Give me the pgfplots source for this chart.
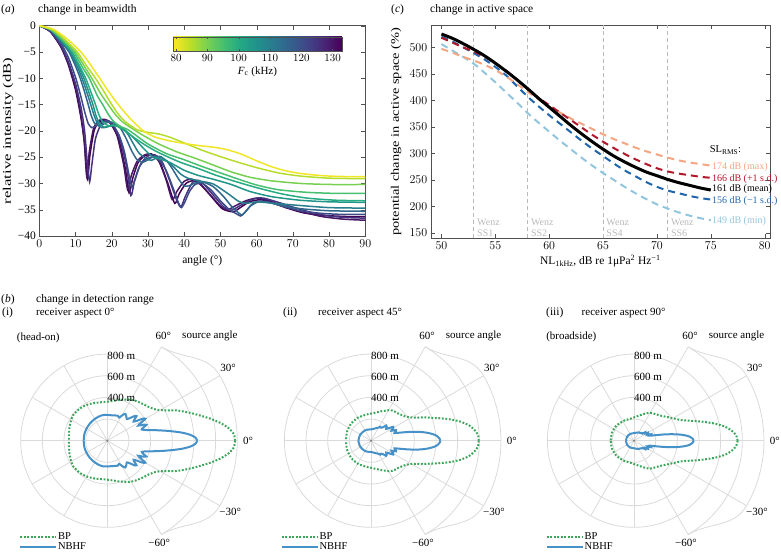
\documentclass[border=0pt]{standalone}
\usepackage{fontspec}
\setmainfont{Liberation Serif}
\usepackage{graphicx}
\usepackage{pgfplots}
\usepackage{pgfplotstable}
\pgfplotsset{compat=1.18}

\definecolor{c80}{RGB}{241,230,37}
\definecolor{c85}{RGB}{182,221,43}
\definecolor{c90}{RGB}{120,208,82}
\definecolor{c95}{RGB}{70,192,111}
\definecolor{c100}{RGB}{38,171,130}
\definecolor{c105}{RGB}{33,149,138}
\definecolor{c110}{RGB}{40,126,141}
\definecolor{c115}{RGB}{49,103,141}
\definecolor{c121}{RGB}{62,74,136}
\definecolor{c125}{RGB}{69,51,126}
\definecolor{c130}{RGB}{70,21,102}
\definecolor{c133}{RGB}{68,1,84}
\definecolor{salmon}{RGB}{244,165,130}
\definecolor{dred}{RGB}{178,24,43}
\definecolor{dblue}{RGB}{33,102,172}
\definecolor{lblue}{RGB}{146,197,222}
\definecolor{wenz}{RGB}{185,185,185}
\definecolor{bpgreen}{RGB}{60,165,90}
\definecolor{nbblue}{RGB}{70,145,200}
\definecolor{gridc}{RGB}{218,218,218}
\definecolor{axc}{RGB}{80,80,80}

\newcommand{\fsz}[1]{\fontsize{#1}{#1}\selectfont}

% ---------- polar data (angle in degrees, range in m) ----------
\pgfplotstableread{
a r
0 1180
3 1170
6 1125
9 1055
12 975
15 893
18 820
21 753
24 690
27 616
30 565
33 530
36 510
40 490
45 475
50 462
55 450
60 437
65 420
70 403
75 388
80 375
90 360
100 360
110 370
120 381
130 390
143 394
155 378
165 365
180 355
}\bpi
\pgfplotstableread{
a r
0 830
2 815
4 770
6 700
8 615
10 535
12 465
14 405
16 360
18 335
20 352
22 388
24 362
26 318
28 352
30 405
32 382
34 328
36 300
38 318
40 352
42 342
45 295
48 270
52 285
56 298
59 278
63 240
67 250
72 245
80 238
90 238
100 240
110 236
120 232
135 226
150 222
165 220
180 218
}\nbi
\pgfplotstableread{
a r
0 995
3 990
6 960
9 915
12 845
15 760
18 670
21 590
24 530
27 470
30 430
35 390
40 370
45 355
50 348
55 340
60 325
65 305
70 290
80 265
90 250
100 245
120 245
140 242
160 236
180 231
}\bpii
\pgfplotstableread{
a r
0 640
2 632
4 612
6 575
8 525
10 465
12 395
14 325
16 265
18 228
20 240
23 252
26 210
29 232
32 242
35 202
38 178
42 195
45 198
48 168
52 152
56 155
60 140
70 122
80 110
90 104
100 105
120 110
150 114
180 117
}\nbii
\pgfplotstableread{
a r
0 957
3 945
6 905
9 845
12 760
15 670
18 590
21 520
24 470
27 440
30 415
35 380
40 352
45 332
50 318
55 308
60 298
65 280
70 262
80 233
90 215
100 205
110 205
120 208
140 214
160 216
180 216
}\bpiii
\pgfplotstableread{
a r
0 550
2 542
4 518
6 475
8 415
10 345
12 275
14 215
16 172
18 150
21 165
24 132
27 146
30 150
33 122
37 130
40 102
45 102
50 92
60 88
70 80
90 70
120 72
150 74
180 74
}\nbiii

\newcommand{\polargrid}{%
 \draw[gridc, line width=0.8pt] (axis cs:0,0) circle[radius=21.66pt];
 \draw[gridc, line width=0.8pt] (axis cs:0,0) circle[radius=43.32pt];
 \draw[gridc, line width=0.8pt] (axis cs:0,0) circle[radius=64.98pt];
 \draw[gridc, line width=0.8pt] (axis cs:0,0) circle[radius=86.64pt];
 \draw[gridc, line width=0.8pt] (axis cs:0,0) ++(-60:108.3pt) arc[start angle=-60, end angle=60, radius=108.3pt];
 \draw[gridc, line width=0.8pt] (axis cs:0,0) ++(-30:129.96pt) arc[start angle=-30, end angle=30, radius=129.96pt];
 \draw[gridc, line width=0.8pt] (axis cs:0,0) ++(30:129.96pt) to[out=120,in=-30] ++(-58.4pt,28.81pt);
 \draw[gridc, line width=0.8pt] (axis cs:0,0) ++(-30:129.96pt) to[out=-120,in=30] ++(-58.4pt,-28.81pt);
 \draw[gridc, line width=0.8pt] (axis cs:0,0) -- ++(90:86.64pt);
 \draw[gridc, line width=0.8pt] (axis cs:0,0) -- ++(120:86.64pt);
 \draw[gridc, line width=0.8pt] (axis cs:0,0) -- ++(150:86.64pt);
 \draw[gridc, line width=0.8pt] (axis cs:0,0) -- ++(180:86.64pt);
 \draw[gridc, line width=0.8pt] (axis cs:0,0) -- ++(210:86.64pt);
 \draw[gridc, line width=0.8pt] (axis cs:0,0) -- ++(240:86.64pt);
 \draw[gridc, line width=0.8pt] (axis cs:0,0) -- ++(270:86.64pt);
 \draw[gridc, line width=0.8pt] (axis cs:0,0) -- ++(60:108.3pt);
 \draw[gridc, line width=0.8pt] (axis cs:0,0) -- ++(-60:108.3pt);
 \draw[gridc, line width=0.8pt] (axis cs:0,0) -- ++(30:129.96pt);
 \draw[gridc, line width=0.8pt] (axis cs:0,0) -- ++(0:129.96pt);
 \draw[gridc, line width=0.8pt] (axis cs:0,0) -- ++(-30:129.96pt);
 \fill[black!50] (axis cs:0,0) circle[radius=1.2pt];
}
\newcommand{\polarlabels}{%
 \node[anchor=west,inner sep=0pt,font=\fsz{11}] at (axis cs:0,785) {800 m};
 \node[anchor=west,inner sep=0pt,font=\fsz{11}] at (axis cs:0,585) {600 m};
 \node[anchor=west,inner sep=0pt,font=\fsz{11}] at (axis cs:0,397) {400 m};
 \node[inner sep=0pt,font=\fsz{11}] at (axis cs:1300,0) {0°};
 \node[inner sep=0pt,font=\fsz{11}] at (axis cs:1116,671) {30°};
 \node[inner sep=0pt,font=\fsz{11}] at (axis cs:1135,-656) {−30°};
 \node[inner sep=0pt,font=\fsz{11}] at (axis cs:517,967) {60°};
 \node[inner sep=0pt,font=\fsz{11}] at (axis cs:480,-942) {−60°};
 \node[anchor=west,inner sep=0pt,font=\fsz{11}] at (axis cs:690,967) {source angle};
}

\pgfplotsset{
 polarax/.style={scale only axis, hide axis, xmin=-950, xmax=1400, ymin=-1000, ymax=1000,
   width=254.5pt, height=216.6pt, anchor=south west, clip=false,
   legend style={draw=none, fill=none, inner sep=0pt, row sep=0pt, font=\fsz{10.5},
     nodes={inner sep=0.8pt}},
   legend cell align=left,
   legend image code/.code={\draw[##1] (0pt,0pt) -- (36pt,0pt);}},
 bpst/.style={bpgreen, line width=2pt, dash pattern=on 1.8pt off 1.7pt, data cs=polar, smooth, tension=0.4},
 nbst/.style={nbblue, line width=2pt, data cs=polar, smooth, tension=0.5},
 boxax/.style={scale only axis, anchor=south west, axis line style={axc}, tick style={axc},
   major tick length=4pt, tick align=inside,
   ticklabel style={font=\fsz{11.5}}, label style={font=\fsz{11.5}}},
 bw/.style={line width=1.5pt, smooth, tension=0.4},
}

\begin{document}
\begin{tikzpicture}[x=1pt,y=1pt]
\useasboundingbox (0,0) rectangle (781,554);

% ---------------- titles ----------------
\node[anchor=west,inner sep=0pt,font=\fsz{11.5}] at (1,544.7) {(\textit{a})};
\node[anchor=west,inner sep=0pt,font=\fsz{11.5}] at (38,544.7) {change in beamwidth};
\node[anchor=west,inner sep=0pt,font=\fsz{11.5}] at (391,544.7) {(\textit{c})};
\node[anchor=west,inner sep=0pt,font=\fsz{11.5}] at (430,544.7) {change in active space};
\node[anchor=west,inner sep=0pt,font=\fsz{11.5}] at (1,254) {(\textit{b})};
\node[anchor=west,inner sep=0pt,font=\fsz{11.5}] at (36,254) {change in detection range};
\node[anchor=west,inner sep=0pt,font=\fsz{11.5}] at (2,241) {(i)};
\node[anchor=west,inner sep=0pt,font=\fsz{11}] at (36,241) {receiver aspect 0°};
\node[anchor=west,inner sep=0pt,font=\fsz{11.5}] at (283,241) {(ii)};
\node[anchor=west,inner sep=0pt,font=\fsz{11}] at (318,241) {receiver aspect 45°};
\node[anchor=west,inner sep=0pt,font=\fsz{11.5}] at (546,241) {(iii)};
\node[anchor=west,inner sep=0pt,font=\fsz{11}] at (581.5,241) {receiver aspect 90°};

% ---------------- (a) ----------------
\begin{axis}[boxax,
  at={(39.3pt,318pt)}, width=326pt, height=210.3pt,
  xmin=0, xmax=90, ymin=-40, ymax=0,
  xtick={0,10,...,90}, ytick={-40,-35,...,0},
  yticklabels={−40,−35,−30,−25,−20,−15,−10,−5,0},
  xlabel={angle (°)},
  ylabel={\scalebox{1.45}[1]{relative intensity (dB)}},
  xlabel style={at={(axis description cs:0.5,-0.119)}, anchor=center},
  ylabel style={at={(axis description cs:-0.096,0.5)}, anchor=center},
  colormap={rviridis}{rgb255=(253,231,37) rgb255=(189,223,38) rgb255=(122,209,81) rgb255=(68,191,112) rgb255=(34,168,132) rgb255=(33,145,140) rgb255=(42,120,142) rgb255=(53,95,141) rgb255=(65,68,135) rgb255=(72,36,117) rgb255=(68,1,84)},
  colorbar horizontal,
  point meta min=79, point meta max=133,
  colorbar style={at={(0.41,0.8797)}, anchor=south west, scale only axis,
    width=169pt, height=14pt, xtick={80,90,...,130},
    axis line style={axc}, tick style={axc}, major tick length=2pt,
    xticklabel style={font=\fsz{11}},
    xlabel={\textit{F}\textsubscript{c} (kHz)}, xlabel style={font=\fsz{11}, yshift=2pt}},
]
\addplot[c133, bw] coordinates {(0,0)(3,-1.1)(6,-4.1)(8,-7.4)(10,-12.2)(11.5,-17.5)(12.5,-22.5)(13.3,-29.2)(14,-24.5)(15.2,-19.8)(16.7,-18.2)(18.2,-18)(19.7,-18.6)(21.8,-21.3)(23.7,-27)(24.8,-31.8)(25.8,-29)(27.3,-26)(29.3,-24.7)(31.3,-24.6)(33.3,-26)(35.5,-30)(37.4,-33.8)(38.6,-32)(40.5,-30)(42.5,-29.5)(44.5,-30.2)(47.5,-32.5)(50.5,-34.8)(53.5,-35.4)(55.5,-34.6)(58,-33.5)(61,-33.1)(64,-33.6)(68,-34.6)(73,-35.6)(79,-36.1)(85,-36.3)(90,-36.3)};
\addplot[c130, bw] coordinates {(0,0)(3,-1.1)(6,-4)(8,-7.2)(10,-11.8)(11.5,-17)(12.4,-22)(13.1,-28.7)(13.8,-24)(15,-19.5)(16.5,-18)(18,-17.8)(19.5,-18.4)(21.5,-21)(23.3,-26.5)(24.4,-31.2)(25.4,-28.5)(27,-25.8)(29,-24.6)(31,-24.4)(33,-25.8)(35,-29.3)(36.7,-33.1)(38,-31.5)(40,-29.6)(42,-29.2)(44,-29.8)(47,-32)(50,-34.3)(52,-35)(54,-34.3)(57,-33.3)(60,-32.8)(63,-33.2)(67,-34.2)(72,-35.3)(78,-36.3)(84,-36.8)(90,-37)};
\addplot[c125, bw] coordinates {(0,0)(3,-1)(6,-3.8)(8,-6.8)(10,-11)(11.5,-15.5)(12.5,-20)(13.3,-26.5)(13.9,-29.7)(14.5,-26.5)(15.5,-21.5)(17,-18.8)(18.5,-18)(20,-18.5)(22,-21)(24,-26.5)(25.3,-32.3)(26.3,-29.5)(28,-26.3)(30,-24.8)(32,-24.6)(34,-26)(36,-29.5)(38,-33.3)(39.1,-34.5)(40.3,-32.5)(42.3,-29.8)(44,-29.4)(46,-30.6)(49,-33)(51,-34.5)(53,-35.1)(55,-34.4)(57.5,-33.4)(60,-32.8)(62,-32.8)(66,-33.6)(70,-34.5)(75,-35.5)(80,-36.2)(85,-36.5)(90,-36.6)};
\addplot[c121, bw] coordinates {(0,0)(3,-0.9)(6,-3.4)(8,-6)(10,-9.8)(11.3,-13)(12.5,-16.3)(13.5,-18.6)(14.5,-19.4)(15.5,-19.1)(17,-18.4)(18.5,-18.1)(20,-18.6)(22,-20.8)(23.5,-24)(24.8,-28.5)(25.6,-30.7)(26.4,-29.3)(27.5,-27)(29,-25.6)(31,-25)(33,-25.5)(35,-27.5)(37,-31)(38.2,-33.3)(39.2,-34.6)(40.2,-33.5)(41.5,-31.5)(43,-30.2)(45,-30)(47.5,-31.3)(50,-33.3)(52.5,-35)(54.5,-35.8)(55.6,-36.2)(56.8,-35.5)(58.5,-34.1)(60.5,-33.4)(63,-33.5)(67,-34.3)(72,-35.2)(78,-35.7)(84,-35.9)(90,-35.9)};
\addplot[c115, bw] coordinates {(0,0)(3,-0.8)(6,-3.1)(8.2,-5)(10,-7.7)(11.3,-10)(12.5,-12.6)(13.5,-15)(14.3,-17)(15.2,-18.5)(16.5,-19.1)(18,-18.6)(19.5,-18.3)(21,-18.6)(22.5,-19.6)(24,-21.5)(25.5,-23.8)(27,-25.5)(28.5,-26)(30,-25.5)(31.5,-24.9)(33.5,-24.9)(35.5,-26)(37,-27.5)(38.5,-29.2)(40,-30.5)(41.5,-30.4)(43,-29.9)(45,-29.7)(48,-30.6)(51,-32.6)(53,-34.3)(55,-35.6)(56,-36)(57,-35.3)(58.5,-34.2)(60.5,-33.5)(63,-33.6)(67,-34.2)(72,-34.8)(80,-35.2)(90,-35.3)};
\addplot[c110, bw] coordinates {(0,0)(3,-0.8)(6,-2.9)(8.5,-5)(10.3,-7.5)(11.8,-10)(13.1,-12.6)(14.2,-15)(15.1,-17)(16,-18.5)(17.2,-19.4)(18.5,-19.3)(20,-18.9)(21.5,-18.9)(23,-19.5)(24.5,-20.7)(26,-22.5)(27.5,-24.2)(29.5,-25.3)(31,-25.6)(33,-25)(35,-25.6)(37,-26.8)(39,-28.2)(41,-29)(44,-29.5)(48,-30.1)(52,-31.9)(55,-33.4)(57,-33.8)(60,-33.5)(65,-33.8)(72,-34.2)(80,-34.6)(90,-34.7)};
\addplot[c105, bw] coordinates {(0,0)(3,-0.7)(6,-2.7)(8.8,-5)(10.7,-7.5)(12.3,-10)(13.6,-12.5)(14.8,-15)(15.7,-17.2)(16.7,-18.7)(18,-19.3)(19.5,-19.1)(21,-19)(23,-19.5)(26,-21.3)(29,-23.5)(31,-24.8)(33,-25.3)(36,-26)(40,-27.5)(44,-28.5)(48,-29.2)(53,-30.2)(58,-31.5)(64,-32.5)(72,-33.2)(80,-33.5)(90,-33.6)};
\addplot[c100, bw] coordinates {(0,0)(3,-0.7)(6,-2.6)(9,-5)(11,-7.5)(12.8,-10)(14.3,-12.7)(15.5,-15)(16.5,-17)(17.5,-18.3)(19,-19)(21,-19)(23,-19.7)(26,-21.2)(29,-22.6)(32,-23.8)(35,-24.8)(39,-26)(44,-27.2)(49,-28.5)(54,-29.6)(60,-30.8)(67,-32)(74,-32.8)(82,-33.2)(90,-33.3)};
\addplot[c95, bw] coordinates {(0,0)(3,-0.6)(6,-2.4)(9.5,-5)(12,-8)(13.8,-10)(16,-13.3)(17.5,-15)(19,-16.8)(20.5,-18.2)(22.5,-19.2)(24,-19.6)(26,-20.5)(30,-22.5)(35,-24.3)(40,-25.5)(45,-26.8)(50,-28)(55,-29.2)(60,-30.3)(66,-31.2)(74,-31.7)(82,-31.9)(90,-31.9)};
\addplot[c90, bw] coordinates {(0,0)(3,-0.6)(6,-2.2)(8,-3.6)(10,-5)(12.5,-7.8)(14.5,-10)(17,-13)(19,-15)(21,-16.9)(23,-18.3)(25.5,-19.5)(29,-21)(33,-22.5)(38,-24)(43,-25.2)(48,-26.5)(53,-27.8)(58,-28.8)(64,-29.5)(72,-30)(80,-30.2)(90,-30.2)};
\addplot[c85, bw] coordinates {(0,0)(4,-0.9)(7,-2.6)(10.5,-5)(13,-7.6)(15.5,-10)(18,-12.7)(20,-15)(22,-17)(24,-18.4)(27,-19.8)(30,-20.3)(33,-20.6)(36,-21.2)(40,-22.3)(45,-23.7)(50,-24.9)(55,-26)(60,-27)(66,-28)(72,-28.6)(80,-29)(90,-29.1)};
\addplot[c80, bw] coordinates {(0,0)(4,-0.7)(8,-2.7)(11.5,-5)(14,-7.3)(16.7,-10)(19,-12.4)(21.8,-15)(25,-17.6)(28.7,-20)(32,-21.2)(36,-21.9)(40,-22.4)(44,-22.8)(48,-23.1)(52,-23.6)(56,-24.5)(60,-25.7)(64,-26.8)(68,-27.6)(72,-28.1)(76,-28.4)(80,-28.6)(85,-28.7)(90,-28.7)};
\end{axis}

% ---------------- (c) ----------------
\begin{axis}[boxax,
  at={(430.7pt,315.7pt)}, width=339.3pt, height=213.3pt,
  xmin=49, xmax=80.5, ymin=140, ymax=542, clip=false,
  xtick={50,55,...,80}, ytick={150,200,...,500},
  xlabel={NL\textsubscript{1kHz}, dB re 1μPa\textsuperscript{2} Hz\textsuperscript{−1}},
  ylabel={\scalebox{1.25}[1]{potential change in active space (\%)}},
  xlabel style={at={(axis description cs:0.5,-0.106)}, anchor=center},
  ylabel style={at={(axis description cs:-0.102,0.5)}, anchor=center},
]
\addplot[wenz, line width=0.8pt, dash pattern=on 4pt off 3pt, forget plot] coordinates {(53,140)(53,542)};
\addplot[wenz, line width=0.8pt, dash pattern=on 4pt off 3pt, forget plot] coordinates {(58,140)(58,542)};
\addplot[wenz, line width=0.8pt, dash pattern=on 4pt off 3pt, forget plot] coordinates {(65,140)(65,542)};
\addplot[wenz, line width=0.8pt, dash pattern=on 4pt off 3pt, forget plot] coordinates {(71,140)(71,542)};
\addplot[lblue, line width=2pt, dash pattern=on 7pt off 5pt, smooth] coordinates {(50,506)(51,494)(52,482)(53,469)(54,452)(55,434)(56,415)(57,396)(58,376)(59,358)(60,341)(61,324)(62,308)(63,292)(64,277)(65,263)(66,250)(67,237)(68,225)(69,214)(70,204)(71,196)(72,189)(73,183)(74,178)(75,174)};
\addplot[dblue, line width=2pt, dash pattern=on 7pt off 5pt, smooth] coordinates {(50,520)(51,511)(52,500)(53,489)(54,477)(55,463)(56,447)(57,427)(58,407)(59,389)(60,372)(61,356)(62,340)(63,324)(64,309)(65,295)(66,281)(67,268)(68,257)(69,246)(70,237)(71,230)(72,225)(73,220)(74,216)(75,213)};
\addplot[salmon, line width=2pt, dash pattern=on 7pt off 5pt, smooth] coordinates {(50,497)(51,490)(52,482)(53,475)(54,467)(55,457)(56,445)(57,431)(58,416)(59,402)(60,388)(61,377)(62,366)(63,356)(64,346)(65,336)(66,327)(67,319)(68,311)(69,304)(70,298)(71,292)(72,287)(73,283)(74,280)(75,277)};
\addplot[dred, line width=2pt, dash pattern=on 7pt off 5pt, smooth] coordinates {(50,518)(51,509)(52,500)(53,492)(54,482)(55,470)(56,456)(57,439)(58,421)(59,405)(60,391)(61,377)(62,363)(63,349)(64,335)(65,322)(66,310)(67,299)(68,289)(69,280)(70,272)(71,266)(72,262)(73,259)(74,256)(75,254)};
\addplot[black, line width=3pt, smooth] coordinates {(50,525)(51,517)(52,507)(53,496)(54,484)(55,470)(56,455)(57,439)(58,422)(59,404)(60,387)(61,370)(62,353)(63,337)(64,322)(65,308)(66,295)(67,284)(68,274)(69,265)(70,258)(71,251)(72,245)(73,240)(74,235)(75,231)};
\node[anchor=west,inner sep=0pt,font=\fsz{10},text=wenz] at (axis cs:53.3,171) {Wenz};
\node[anchor=west,inner sep=0pt,font=\fsz{10},text=wenz] at (axis cs:53.3,149.5) {SS1};
\node[anchor=west,inner sep=0pt,font=\fsz{10},text=wenz] at (axis cs:58.3,171) {Wenz};
\node[anchor=west,inner sep=0pt,font=\fsz{10},text=wenz] at (axis cs:58.3,149.5) {SS2};
\node[anchor=west,inner sep=0pt,font=\fsz{10},text=wenz] at (axis cs:65.3,171) {Wenz};
\node[anchor=west,inner sep=0pt,font=\fsz{10},text=wenz] at (axis cs:65.3,149.5) {SS4};
\node[anchor=west,inner sep=0pt,font=\fsz{10},text=wenz] at (axis cs:71.3,171) {Wenz};
\node[anchor=west,inner sep=0pt,font=\fsz{10},text=wenz] at (axis cs:71.3,149.5) {SS6};
\node[anchor=west,inner sep=0pt,font=\fsz{10.5}] at (axis cs:74.9,306) {SL\textsubscript{RMS}:};
\node[anchor=west,inner sep=0pt,font=\fsz{10},text=salmon] at (axis cs:75.1,275) {174 dB (max)};
\node[anchor=west,inner sep=0pt,font=\fsz{10},text=dred] at (axis cs:75.1,251) {166 dB (+1 s.d.)};
\node[anchor=west,inner sep=0pt,font=\fsz{10},text=black] at (axis cs:75.1,232.4) {161 dB (mean)};
\node[anchor=west,inner sep=0pt,font=\fsz{10},text=dblue] at (axis cs:75.1,210.3) {156 dB (−1 s.d.)};
\node[anchor=west,inner sep=0pt,font=\fsz{10},text=lblue] at (axis cs:75.1,173) {149 dB (min)};
\end{axis}

% ---------------- (b)(i) ----------------
\begin{axis}[polarax, at={(4.415pt,5pt)},
  legend style={at={(axis cs:-815,-840)}, anchor=north west}]
\polargrid
\addplot[bpst] table[x=a,y=r] {\bpi};
\addplot[bpst, forget plot] table[x expr=-\thisrow{a}, y=r] {\bpi};
\addplot[nbst] table[x=a,y=r] {\nbi};
\addplot[nbst, forget plot] table[x expr=-\thisrow{a}, y=r] {\nbi};
\polarlabels
\node[anchor=west,inner sep=0pt,font=\fsz{11}] at (axis cs:-837,950) {(head-on)};
\legend{BP,NBHF}
\end{axis}

% ---------------- (b)(ii) ----------------
\begin{axis}[polarax, at={(268.115pt,5pt)},
  legend style={at={(axis cs:-835,-840)}, anchor=north west}]
\polargrid
\addplot[bpst] table[x=a,y=r] {\bpii};
\addplot[bpst, forget plot] table[x expr=-\thisrow{a}, y=r] {\bpii};
\addplot[nbst] table[x=a,y=r] {\nbii};
\addplot[nbst, forget plot] table[x expr=-\thisrow{a}, y=r] {\nbii};
\polarlabels
\legend{BP,NBHF}
\end{axis}

% ---------------- (b)(iii) ----------------
\begin{axis}[polarax, at={(531.115pt,5pt)},
  legend style={at={(axis cs:-815,-840)}, anchor=north west}]
\polargrid
\addplot[bpst] table[x=a,y=r] {\bpiii};
\addplot[bpst, forget plot] table[x expr=-\thisrow{a}, y=r] {\bpiii};
\addplot[nbst] table[x=a,y=r] {\nbiii};
\addplot[nbst, forget plot] table[x expr=-\thisrow{a}, y=r] {\nbiii};
\polarlabels
\node[anchor=west,inner sep=0pt,font=\fsz{11}] at (axis cs:-812,955) {(broadside)};
\legend{BP,NBHF}
\end{axis}
\end{tikzpicture}
\end{document}
